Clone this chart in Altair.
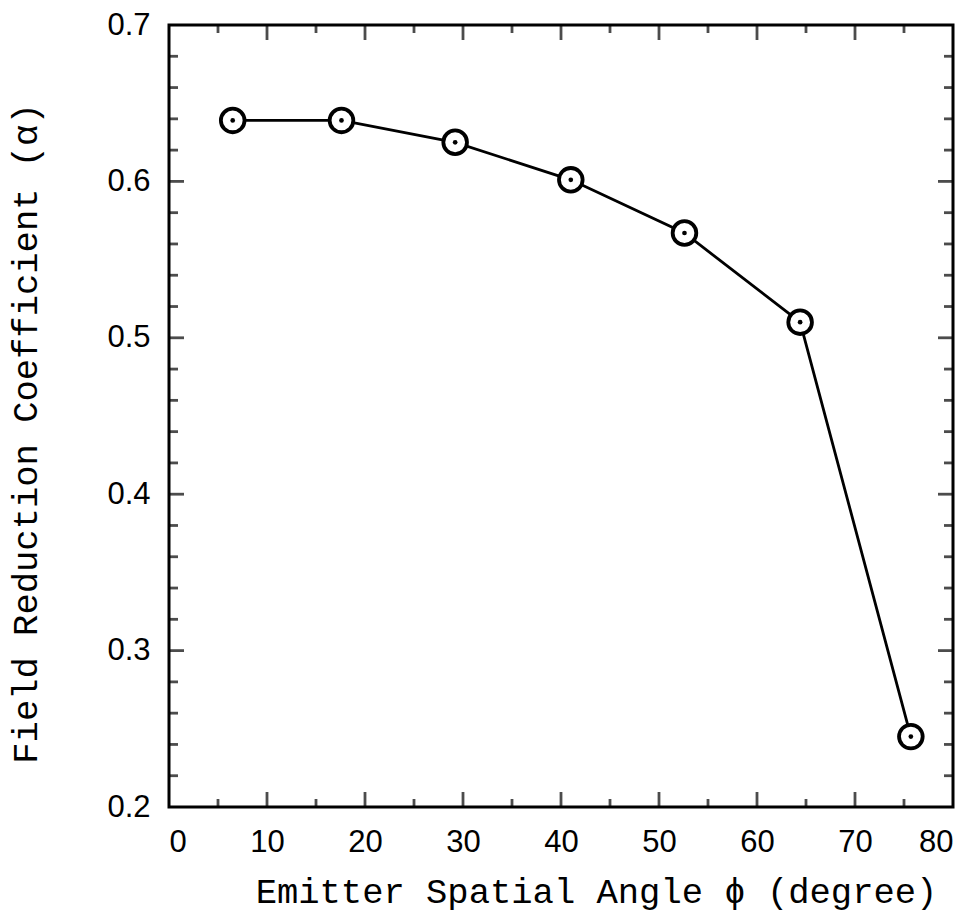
import altair as alt
import pandas as pd

# data
angle = [6.5, 17.6, 29.2, 41.0, 52.6, 64.4, 75.7]
alpha = [0.639, 0.639, 0.625, 0.601, 0.567, 0.510, 0.245]

x_major = [0, 10, 20, 30, 40, 50, 60, 70, 80]
x_minor = [5, 15, 25, 35, 45, 55, 65, 75]
y_major = [0.2, 0.3, 0.4, 0.5, 0.6, 0.7]
y_minor = [0.22, 0.24, 0.26, 0.28, 0.32, 0.34, 0.36, 0.38, 0.42, 0.44, 0.46, 0.48,
           0.52, 0.54, 0.56, 0.58, 0.62, 0.64, 0.66, 0.68]

XMIN, XMAX = 0, 80
YMIN, YMAX = 0.2, 0.7

df = pd.DataFrame({"angle": angle, "alpha": alpha})

TITLE_FONT = "Liberation Mono"
LABEL_FONT = "Liberation Sans"
XTITLE = "Emitter Spatial Angle \u03d5 (degree)"
YTITLE = "Field Reduction Coefficient (\u03b1)"

xscale = alt.Scale(domain=[XMIN, XMAX], nice=False, zero=False)
yscale = alt.Scale(domain=[YMIN, YMAX], nice=False, zero=False)

xaxis = alt.Axis(values=x_major, format="d", grid=False, ticks=False, domain=False,
                 labelFont=LABEL_FONT, labelFontSize=31, labelColor="black",
                 labelPadding=20, title=XTITLE,
                 titleFont=TITLE_FONT, titleFontSize=35.5, titleFontWeight="normal",
                 titleColor="black", titlePadding=17, titleX=427)
yaxis = alt.Axis(values=y_major, format=".1f", grid=False, ticks=False, domain=False,
                 labelFont=LABEL_FONT, labelFontSize=31, labelColor="black",
                 labelPadding=19, title=YTITLE,
                 titleFont=TITLE_FONT, titleFontSize=35.5, titleFontWeight="normal",
                 titleColor="black", titlePadding=63, titleY=408)

base = alt.Chart(df)
X = alt.X("angle:Q", scale=xscale, axis=xaxis, title=XTITLE)
Y = alt.Y("alpha:Q", scale=yscale, axis=yaxis, title=YTITLE)

line = base.mark_line(color="black", strokeWidth=2.8).encode(x=X, y=Y)
ring = base.mark_point(shape="circle", size=560, filled=True, fill="white",
                       stroke="black", strokeWidth=3.8, opacity=1).encode(x=X, y=Y)
dot = base.mark_point(shape="circle", size=22, filled=True, color="black",
                      opacity=1).encode(x=X, y=Y)

def xticks(vals, length):
    d = pd.DataFrame({"v": vals})
    out = []
    for yv, off in ((YMIN, -length / 2), (YMAX, length / 2)):
        out.append(alt.Chart(d).mark_tick(orient="vertical", size=length, thickness=2.8,
                                          color="black", yOffset=off).encode(
            x=alt.X("v:Q", scale=xscale, axis=xaxis, title=XTITLE),
            y=alt.YDatum(yv, scale=yscale, axis=yaxis, title=YTITLE)))
    return out

def yticks(vals, length):
    d = pd.DataFrame({"v": vals})
    out = []
    for xv, off in ((XMIN, length / 2), (XMAX, -length / 2)):
        out.append(alt.Chart(d).mark_tick(orient="horizontal", size=length, thickness=2.8,
                                          color="black", xOffset=off).encode(
            y=alt.Y("v:Q", scale=yscale, axis=yaxis, title=YTITLE),
            x=alt.XDatum(xv, scale=xscale, axis=xaxis, title=XTITLE)))
    return out

tick_layers = (xticks(x_major[1:-1], 15) + xticks(x_minor, 8)
               + yticks(y_major[1:-1], 15) + yticks(y_minor, 9))

chart = alt.layer(line, *tick_layers, ring, dot).properties(
    width=784, height=782,
    autosize=alt.AutoSizeParams(type="none"),
    padding={"left": 169, "top": 25, "right": 22, "bottom": 109},
    background="white",
).configure_view(stroke="black", strokeWidth=3)

chart.save("out.html", embed_options={"renderer": "svg", "actions": False})
